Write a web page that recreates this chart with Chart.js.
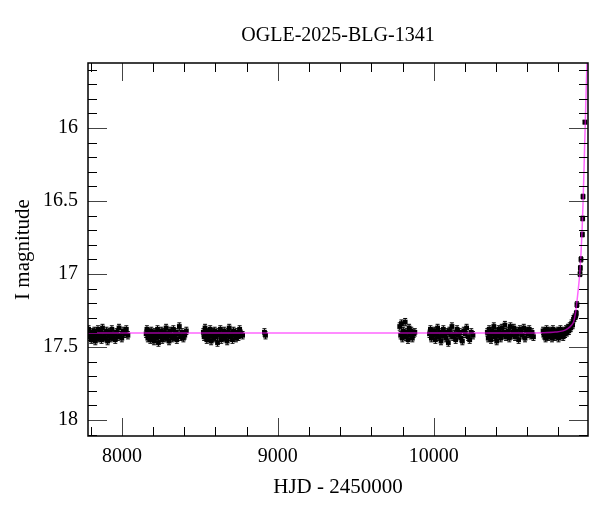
<!DOCTYPE html>
<html>
<head>
<meta charset="utf-8">
<script src="https://cdn.jsdelivr.net/npm/chart.js@4/dist/chart.umd.min.js"></script>
<style>
  html, body { margin: 0; padding: 0; background: #fff; }
</style>
</head>
<body>
<canvas id="lc" width="600" height="512"></canvas>
<script>
// OGLE seasons, HJD - 2450000 and I mag
const hjd1 = [7786, 7792, 7797, 7803, 7808, 7812, 7818, 7823, 7829, 7834, 7840, 7846, 7851, 7857, 7862, 7869, 7875, 7881, 7888, 7894, 7901, 7908, 7915, 7921, 7928, 7935, 7942, 7950, 7957, 7965, 7973, 7981, 7990, 7999, 8008, 8018, 8028, 8038]
const mag1 = [17.38, 17.43, 17.41, 17.45, 17.40, 17.44, 17.42, 17.39, 17.46, 17.41, 17.43, 17.38, 17.44, 17.42, 17.40, 17.45, 17.37, 17.43, 17.41, 17.44, 17.39, 17.46, 17.42, 17.40, 17.44, 17.38, 17.43, 17.41, 17.45, 17.40, 17.43, 17.37, 17.42, 17.44, 17.39, 17.41, 17.38, 17.42]

const hjd2 = [8155, 8160, 8166, 8171, 8177, 8182, 8188, 8193, 8199, 8205, 8211, 8216, 8222, 8228, 8234, 8240, 8246, 8252, 8258, 8264, 8270, 8276, 8283, 8289, 8296, 8302, 8309, 8316, 8323, 8330, 8337, 8344, 8352, 8360, 8368, 8376, 8385, 8394, 8403, 8413]
const mag2 = [17.41, 17.38, 17.44, 17.40, 17.42, 17.45, 17.39, 17.43, 17.41, 17.46, 17.40, 17.44, 17.42, 17.38, 17.47, 17.41, 17.43, 17.39, 17.45, 17.42, 17.40, 17.44, 17.37, 17.43, 17.41, 17.46, 17.39, 17.42, 17.44, 17.38, 17.43, 17.40, 17.45, 17.41, 17.36, 17.43, 17.40, 17.44, 17.42, 17.39]

const hjd3 = [8522, 8527, 8533, 8538, 8544, 8549, 8555, 8561, 8566, 8572, 8578, 8583, 8589, 8595, 8601, 8607, 8613, 8619, 8625, 8631, 8637, 8643, 8649, 8656, 8662, 8668, 8675, 8681, 8688, 8695, 8702, 8709, 8716, 8723, 8731, 8739, 8747, 8755, 8764, 8774, 8914, 8921]
const mag3 = [17.40, 17.43, 17.37, 17.42, 17.45, 17.40, 17.44, 17.41, 17.38, 17.46, 17.42, 17.40, 17.44, 17.39, 17.43, 17.41, 17.47, 17.40, 17.42, 17.38, 17.45, 17.41, 17.43, 17.39, 17.44, 17.42, 17.46, 17.40, 17.37, 17.43, 17.41, 17.45, 17.39, 17.42, 17.44, 17.40, 17.43, 17.38, 17.41, 17.42, 17.40, 17.42]

const hjd4 = [9782, 9788, 9793, 9799, 9805, 9811, 9817, 9823, 9829, 9835, 9842, 9849, 9856, 9863, 9871, 9879]
const mag4 = [17.36, 17.42, 17.34, 17.44, 17.39, 17.41, 17.33, 17.43, 17.40, 17.45, 17.37, 17.42, 17.39, 17.44, 17.41, 17.40]

const hjd5 = [9973, 9979, 9985, 9991, 9998, 10004, 10011, 10018, 10025, 10032, 10040, 10047, 10055, 10062, 10070, 10078, 10086, 10094, 10101, 10109, 10117, 10125, 10133, 10141, 10150, 10158, 10166, 10175, 10184, 10193, 10202, 10211, 10221, 10231, 10241, 10252]
const mag5 = [17.41, 17.38, 17.44, 17.40, 17.42, 17.39, 17.45, 17.41, 17.37, 17.43, 17.40, 17.46, 17.42, 17.38, 17.41, 17.44, 17.40, 17.47, 17.39, 17.42, 17.36, 17.43, 17.41, 17.45, 17.38, 17.42, 17.40, 17.44, 17.46, 17.39, 17.41, 17.37, 17.43, 17.45, 17.40, 17.42]

const hjd6 = [10344, 10350, 10356, 10362, 10368, 10374, 10380, 10386, 10392, 10398, 10404, 10411, 10417, 10424, 10430, 10437, 10444, 10450, 10457, 10464, 10471, 10478, 10485, 10492, 10499, 10507, 10514, 10522, 10529, 10537, 10545, 10553, 10561, 10569, 10578, 10586, 10595, 10604, 10613, 10622, 10631, 10640]
const mag6 = [17.40, 17.44, 17.38, 17.42, 17.45, 17.39, 17.41, 17.36, 17.43, 17.40, 17.46, 17.42, 17.38, 17.41, 17.44, 17.37, 17.42, 17.40, 17.35, 17.43, 17.41, 17.39, 17.44, 17.36, 17.42, 17.40, 17.37, 17.43, 17.39, 17.41, 17.45, 17.38, 17.40, 17.42, 17.37, 17.44, 17.39, 17.41, 17.38, 17.42, 17.40, 17.43]

const hjd7 = [10702, 10707, 10713, 10718, 10724, 10730, 10735, 10741, 10747, 10753, 10759, 10765, 10771, 10777, 10783, 10789, 10795, 10801, 10807, 10813, 10819, 10825, 10831, 10837, 10843, 10849, 10855, 10861, 10867, 10873, 10879, 10885, 10891, 10897, 10903]
const mag7 = [17.39, 17.42, 17.40, 17.44, 17.38, 17.41, 17.43, 17.39, 17.42, 17.40, 17.44, 17.38, 17.41, 17.43, 17.40, 17.42, 17.39, 17.44, 17.41, 17.38, 17.42, 17.40, 17.43, 17.39, 17.41, 17.38, 17.40, 17.37, 17.39, 17.36, 17.37, 17.34, 17.35, 17.31, 17.30]

// the rising part of the event
const hjdRise = [10911, 10915, 10919, 10939, 10941, 10945, 10954, 10956, 10958, 10970]
const magRise = [17.29, 17.27, 17.21, 17.00, 16.96, 16.90, 16.73, 16.62, 16.47, 15.96]
const errRise = [0.02, 0.02, 0.02, 0.018, 0.018, 0.018, 0.016, 0.016, 0.016, 0.012]
const errBase = 0.025

// model curve
const modelHjd = [7780, 10600, 10700, 10780, 10830, 10860, 10885, 10900, 10912, 10922, 10930, 10937, 10945, 10952, 10958, 10964, 10969, 10973, 10978, 10985]
const modelMag = [17.405, 17.405, 17.403, 17.398, 17.39, 17.375, 17.35, 17.32, 17.25, 17.16, 17.08, 17.0, 16.86, 16.70, 16.52, 16.30, 16.10, 15.95, 15.75, 15.50]

const xTickVals = [8000, 9000, 10000]
const yTickVals = [16, 16.5, 17, 17.5, 18]

const xMin = 7782, xMax = 10990
const yMin = 15.555, yMax = 18.11

const serif = '"Liberation Serif", "Times New Roman", serif'

function toPoints(hjd, mag, err) {
    return hjd.map((t, i) => ({ x: t, y: mag[i], e: Array.isArray(err) ? err[i] : err }))
}

const obs = [].concat(
    toPoints(hjd1, mag1, errBase),
    toPoints(hjd2, mag2, errBase),
    toPoints(hjd3, mag3, errBase),
    toPoints(hjd4, mag4, errBase),
    toPoints(hjd5, mag5, errBase),
    toPoints(hjd6, mag6, errBase),
    toPoints(hjd7, mag7, errBase),
    toPoints(hjdRise, magRise, errRise)
)

const model = modelHjd.map((t, i) => ({ x: t, y: modelMag[i] }))

// error bars, drawn under the datasets so the model stays on top
const errorBars = {
    id: 'errorBars',
    beforeDatasetsDraw(chart) {
        const { ctx, chartArea: a, scales: { x, y } } = chart
        ctx.save()
        ctx.beginPath()
        ctx.rect(a.left, a.top, a.right - a.left, a.bottom - a.top)
        ctx.clip()
        ctx.strokeStyle = '#000'
        ctx.lineWidth = 1
        chart.data.datasets[1].data.forEach(p => {
            const px = x.getPixelForValue(p.x)
            const y1 = y.getPixelForValue(p.y - p.e)
            const y2 = y.getPixelForValue(p.y + p.e)
            ctx.beginPath()
            ctx.moveTo(px, y1); ctx.lineTo(px, y2)
            ctx.moveTo(px - 2, y1); ctx.lineTo(px + 2, y1)
            ctx.moveTo(px - 2, y2); ctx.lineTo(px + 2, y2)
            ctx.stroke()
        })
        ctx.restore()
    }
}

// box with inward ticks on all four sides
const frame = {
    id: 'frame',
    afterDraw(chart) {
        const { ctx, chartArea: a, scales: { x, y } } = chart
        ctx.save()
        ctx.lineWidth = 1
        const seg = (x1, y1, x2, y2, c) => {
            ctx.strokeStyle = c
            ctx.beginPath(); ctx.moveTo(x1, y1); ctx.lineTo(x2, y2); ctx.stroke()
        }
        for (let v = 7800; v <= xMax; v += 200) {
            const px = Math.round(x.getPixelForValue(v)) + 0.5
            const major = v % 1000 === 0
            const len = major ? 18 : 9
            const c = major ? '#444' : '#000'
            seg(px, a.bottom, px, a.bottom - len, c)
            seg(px, a.top, px, a.top + len, c)
        }
        for (let k = 156; k <= 181; k++) {
            const py = Math.round(y.getPixelForValue(k / 10)) + 0.5
            const major = k % 5 === 0
            const len = major ? 19 : 9
            const c = major ? '#444' : '#000'
            seg(a.left, py, a.left + len, py, c)
            seg(a.right, py, a.right - len, py, c)
        }
        ctx.strokeStyle = '#000'
        ctx.lineWidth = 1.5
        ctx.strokeRect(a.left, a.top, a.right - a.left, a.bottom - a.top)
        ctx.restore()
    }
}

new Chart(document.getElementById('lc'), {
    type: 'scatter',
    data: {
        datasets: [
            {
                data: model,
                showLine: true,
                borderColor: 'rgba(255, 0, 255, 0.6)',
                borderWidth: 1.5,
                pointRadius: 0,
                cubicInterpolationMode: 'monotone',
                order: 0
            },
            {
                data: obs,
                pointStyle: 'rect',
                pointRadius: 3.4,
                borderWidth: 0,
                backgroundColor: '#000',
                order: 1
            }
        ]
    },
    options: {
        responsive: false,
        animation: false,
        layout: { padding: { top: 0, right: 12, left: 0, bottom: 0 } },
        plugins: {
            legend: { display: false },
            tooltip: { enabled: false },
            title: {
                display: true,
                text: 'OGLE-2025-BLG-1341',
                fullSize: false,
                color: '#000',
                font: { family: serif, size: 20, weight: 'normal' },
                padding: { top: 24, bottom: 15 }
            }
        },
        scales: {
            x: {
                type: 'linear',
                min: xMin,
                max: xMax,
                grid: { display: false, drawTicks: false },
                border: { display: false },
                afterBuildTicks: s => { s.ticks = xTickVals.map(v => ({ value: v })) },
                ticks: {
                    maxRotation: 0,
                    autoSkip: false,
                    padding: 9,
                    color: '#000',
                    font: { family: serif, size: 20 },
                    callback: v => String(v)
                },
                title: {
                    display: true,
                    text: 'HJD - 2450000',
                    color: '#000',
                    font: { family: serif, size: 21 },
                    padding: { top: 0, bottom: 12 }
                },
                afterFit: s => { s.height = 76 }
            },
            y: {
                type: 'linear',
                reverse: true,
                min: yMin,
                max: yMax,
                grid: { display: false, drawTicks: false },
                border: { display: false },
                afterBuildTicks: s => { s.ticks = yTickVals.map(v => ({ value: v })) },
                ticks: {
                    autoSkip: false,
                    padding: 10,
                    color: '#000',
                    font: { family: serif, size: 20 },
                    callback: v => String(v)
                },
                title: {
                    display: true,
                    text: 'I magnitude',
                    color: '#000',
                    font: { family: serif, size: 21 },
                    padding: { top: 11, bottom: 0 }
                },
                afterFit: s => { s.width = 88 }
            }
        }
    },
    plugins: [errorBars, frame]
});
</script>
</body>
</html>
